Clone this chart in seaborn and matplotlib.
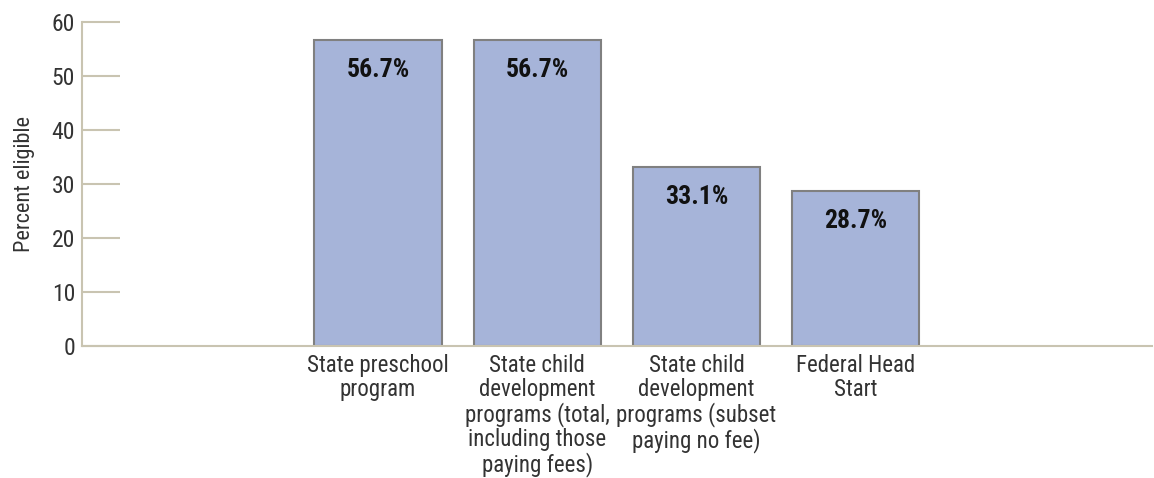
import pandas as pd
import seaborn as sns
import matplotlib.pyplot as plt

programs = ["State preschool\nprogram",
            "State child\ndevelopment\nprograms (total,\nincluding those\npaying fees)",
            "State child\ndevelopment\nprograms (subset\npaying no fee)",
            "Federal Head\nStart"]
pct_eligible = [56.7, 56.7, 33.1, 28.7]
yticks = [0, 10, 20, 30, 40, 50, 60]

df = pd.DataFrame({"program": programs, "pct": pct_eligible})

sns.set_style("white")
plt.rcParams["font.family"] = ["Roboto Condensed", "DejaVu Sans Condensed",
                               "Liberation Sans Narrow", "Liberation Sans"]

axis_color = "#c9c4b1"
text_color = "#333333"

fig = plt.figure(figsize=(11.54, 4.78), dpi=100)
ax = fig.add_axes([0.0711, 0.276, 0.9269, 0.678])

sns.barplot(data=df, x="program", y="pct", order=programs, color="#a6b4d9",
            edgecolor="#808080", linewidth=1.5, width=0.8, saturation=1, ax=ax)

for i, v in enumerate(pct_eligible):
    ax.text(i, v - 3.3, f"{v}%", ha="center", va="top", fontsize=18.5,
            fontweight="bold", color="#111111")

ax.set_xlim(-1.858, 4.858)
ax.set_ylim(0, 60)
ax.set_yticks(yticks)
ax.set_ylabel("Percent eligible", fontsize=16, color=text_color, labelpad=12)
ax.set_xlabel("")

for side in ["top", "right"]:
    ax.spines[side].set_visible(False)
for side in ["left", "bottom"]:
    ax.spines[side].set_color(axis_color)
    ax.spines[side].set_linewidth(1.5)

ax.tick_params(axis="y", left=True, direction="in", length=27, width=1.5,
               color=axis_color, labelsize=17, labelcolor=text_color, pad=5)
ax.tick_params(axis="x", bottom=False, length=0, labelsize=16.5,
               labelcolor=text_color, pad=5.5)
for lab in ax.get_xticklabels():
    lab.set_linespacing(1.06)

plt.savefig("out.png", dpi=100)
